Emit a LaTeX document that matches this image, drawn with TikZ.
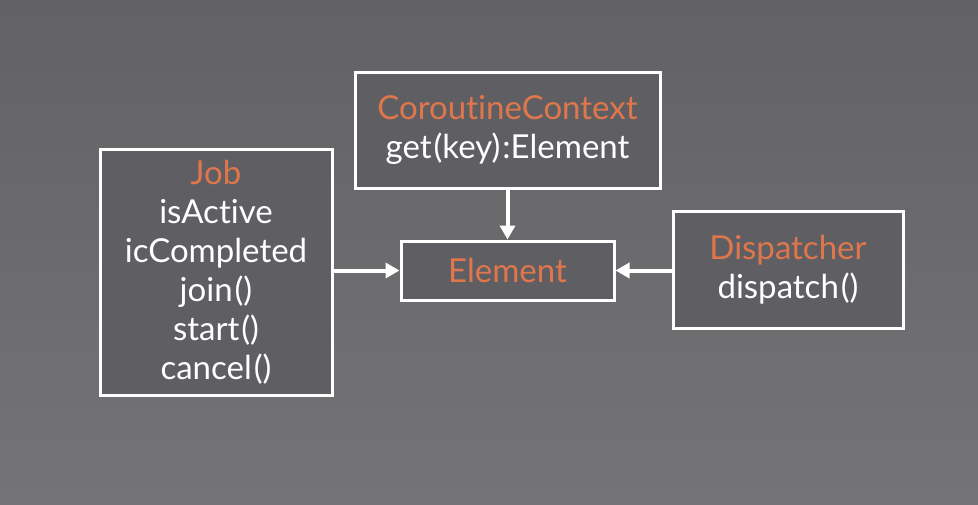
\documentclass[tikz,border=0pt]{standalone}
\usepackage{fontspec}
\setmainfont[RawFeature=-liga]{Lato}
\usetikzlibrary{arrows.meta}
\definecolor{bgtop}{HTML}{626264}
\definecolor{bgbot}{HTML}{747476}
\definecolor{boxc}{HTML}{5F5F63}
\definecolor{orng}{HTML}{E0764C}
\newcommand{\pk}{\kern2pt}
\begin{document}
\begin{tikzpicture}[x=1pt,y=-1pt,
  box/.style={draw=white,line width=3pt,fill=boxc,inner sep=0pt,align=center,
    text=white,font=\fontsize{33}{39}\selectfont},
  conn/.style={draw=white,line width=4pt,-{Triangle[width=15pt,length=14pt]}}]
\shade[top color=bgtop,bottom color=bgbot] (0,0) rectangle (978,504);
\useasboundingbox (0,0) rectangle (978,504);
\node[box,minimum width=232pt,minimum height=246pt] (job) at (216,272)
  {\textcolor{orng}{Job}\\isActive\\icCompleted\\join\pk()\\start\pk()\\cancel\pk()};
\node[box,minimum width=305pt,minimum height=116pt] (cc) at (507.5,130)
  {\textcolor{orng}{CoroutineContext}\\get\pk(key)\pk:Element};
\node[box,minimum width=213pt,minimum height=59pt] (el) at (507.5,270.5)
  {\textcolor{orng}{Element}};
\node[box,minimum width=230pt,minimum height=117pt] (disp) at (788,269.5)
  {\textcolor{orng}{Dispatcher}\\dispatch\pk()};
\draw[conn] (job.east |- el.west) -- (el.west);
\draw[conn] (cc.south) -- (el.north);
\draw[conn] (disp.west |- el.east) -- (el.east);
\end{tikzpicture}
\end{document}
